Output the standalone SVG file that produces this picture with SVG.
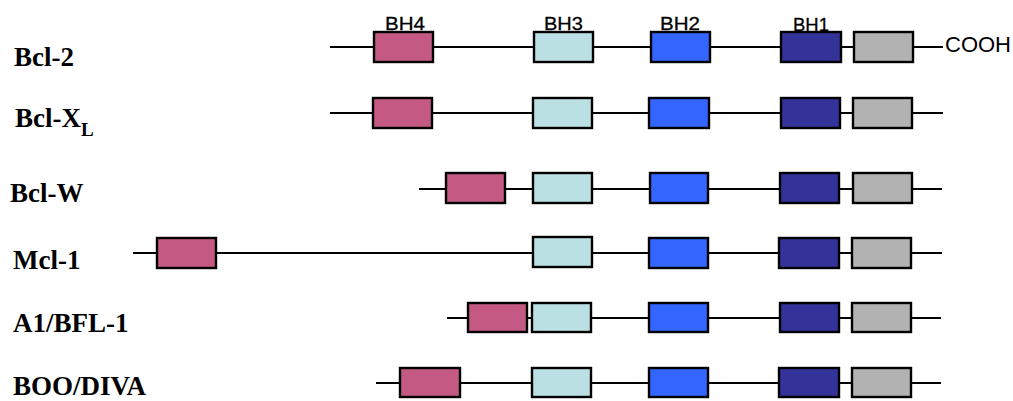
<svg xmlns="http://www.w3.org/2000/svg" width="1013" height="401" viewBox="0 0 1013 401">
  <style>
    .bb { stroke: #000; stroke-width: 2.2; fill: none; }
    .dom { stroke: #000; stroke-width: 2.4; }
    .bh4 { fill: #C45A84; }
    .bh3 { fill: #BBE0E3; }
    .bh2 { fill: #3366FF; }
    .bh1 { fill: #333399; }
    .tm { fill: #B2B2B2; }
    .name { font-family: "Liberation Serif", "Times New Roman", serif; font-weight: bold; font-size: 27px; fill: #000; }
    .sub { font-size: 19px; }
    .hdr { font-family: "Liberation Sans", Arial, sans-serif; font-size: 19px; fill: #000; stroke: #000; stroke-width: 0.3; }
    .cooh { font-family: "Liberation Sans", Arial, sans-serif; font-size: 22px; fill: #000; }
  </style>

  <!-- protein backbones -->
  <g id="connectors">
    <line class="bb" x1="330" y1="47" x2="943" y2="47"/>
    <line class="bb" x1="330" y1="113" x2="943" y2="113"/>
    <line class="bb" x1="419" y1="189" x2="942" y2="189"/>
    <line class="bb" x1="133" y1="253" x2="942" y2="253"/>
    <line class="bb" x1="447" y1="318" x2="941" y2="318"/>
    <line class="bb" x1="376" y1="383" x2="941" y2="383"/>
  </g>

  <!-- domain headings -->
  <g id="domain-labels">
    <text class="hdr" x="385" y="29.5" textLength="40" lengthAdjust="spacingAndGlyphs">BH4</text>
    <text class="hdr" x="544" y="29.5" textLength="39" lengthAdjust="spacingAndGlyphs">BH3</text>
    <text class="hdr" x="660" y="29.5" textLength="40" lengthAdjust="spacingAndGlyphs">BH2</text>
    <text class="hdr" x="793" y="30.5" textLength="36" lengthAdjust="spacingAndGlyphs">BH1</text>
  </g>

  <g id="bcl-2">
    <text class="name" x="14" y="66">Bcl-2</text>
    <rect class="dom bh4" x="374" y="32" width="59" height="30"/>
    <rect class="dom bh3" x="534" y="32" width="59" height="30"/>
    <rect class="dom bh2" x="651" y="32" width="59" height="30"/>
    <rect class="dom bh1" x="781" y="32" width="60" height="30"/>
    <rect class="dom tm" x="854" y="32" width="59" height="30"/>
    <text class="cooh" x="945" y="52">COOH</text>
  </g>

  <g id="bcl-xl">
    <text class="name" x="15" y="127">Bcl-X<tspan class="sub" dy="9">L</tspan></text>
    <rect class="dom bh4" x="373" y="98" width="59" height="30"/>
    <rect class="dom bh3" x="533" y="98" width="59" height="30"/>
    <rect class="dom bh2" x="649" y="98" width="60" height="30"/>
    <rect class="dom bh1" x="781" y="98" width="59" height="30"/>
    <rect class="dom tm" x="853" y="98" width="59" height="30"/>
  </g>

  <g id="bcl-w">
    <text class="name" x="10" y="202">Bcl-W</text>
    <rect class="dom bh4" x="446" y="173" width="59" height="30"/>
    <rect class="dom bh3" x="533" y="173" width="59" height="30"/>
    <rect class="dom bh2" x="650" y="173" width="58" height="30"/>
    <rect class="dom bh1" x="780" y="173" width="59" height="30"/>
    <rect class="dom tm" x="853" y="173" width="59" height="30"/>
  </g>

  <g id="mcl-1">
    <text class="name" x="13" y="269">Mcl-1</text>
    <rect class="dom bh4" x="157" y="238" width="59" height="30"/>
    <rect class="dom bh3" x="533" y="237" width="59" height="30"/>
    <rect class="dom bh2" x="649" y="238" width="59" height="30"/>
    <rect class="dom bh1" x="779" y="238" width="60" height="30"/>
    <rect class="dom tm" x="852" y="238" width="59" height="30"/>
  </g>

  <g id="a1-bfl-1">
    <text class="name" x="13" y="332">A1/BFL-1</text>
    <rect class="dom bh4" x="468" y="303" width="59" height="29"/>
    <rect class="dom bh3" x="532" y="303" width="59" height="29"/>
    <rect class="dom bh2" x="649" y="303" width="59" height="29"/>
    <rect class="dom bh1" x="780" y="303" width="59" height="29"/>
    <rect class="dom tm" x="852" y="303" width="59" height="29"/>
  </g>

  <g id="boo-diva">
    <text class="name" x="13" y="395">BOO/DIVA</text>
    <rect class="dom bh4" x="400" y="368" width="60" height="29"/>
    <rect class="dom bh3" x="532" y="368" width="59" height="29"/>
    <rect class="dom bh2" x="649" y="368" width="59" height="29"/>
    <rect class="dom bh1" x="779" y="368" width="60" height="29"/>
    <rect class="dom tm" x="852" y="368" width="59" height="29"/>
  </g>
</svg>
